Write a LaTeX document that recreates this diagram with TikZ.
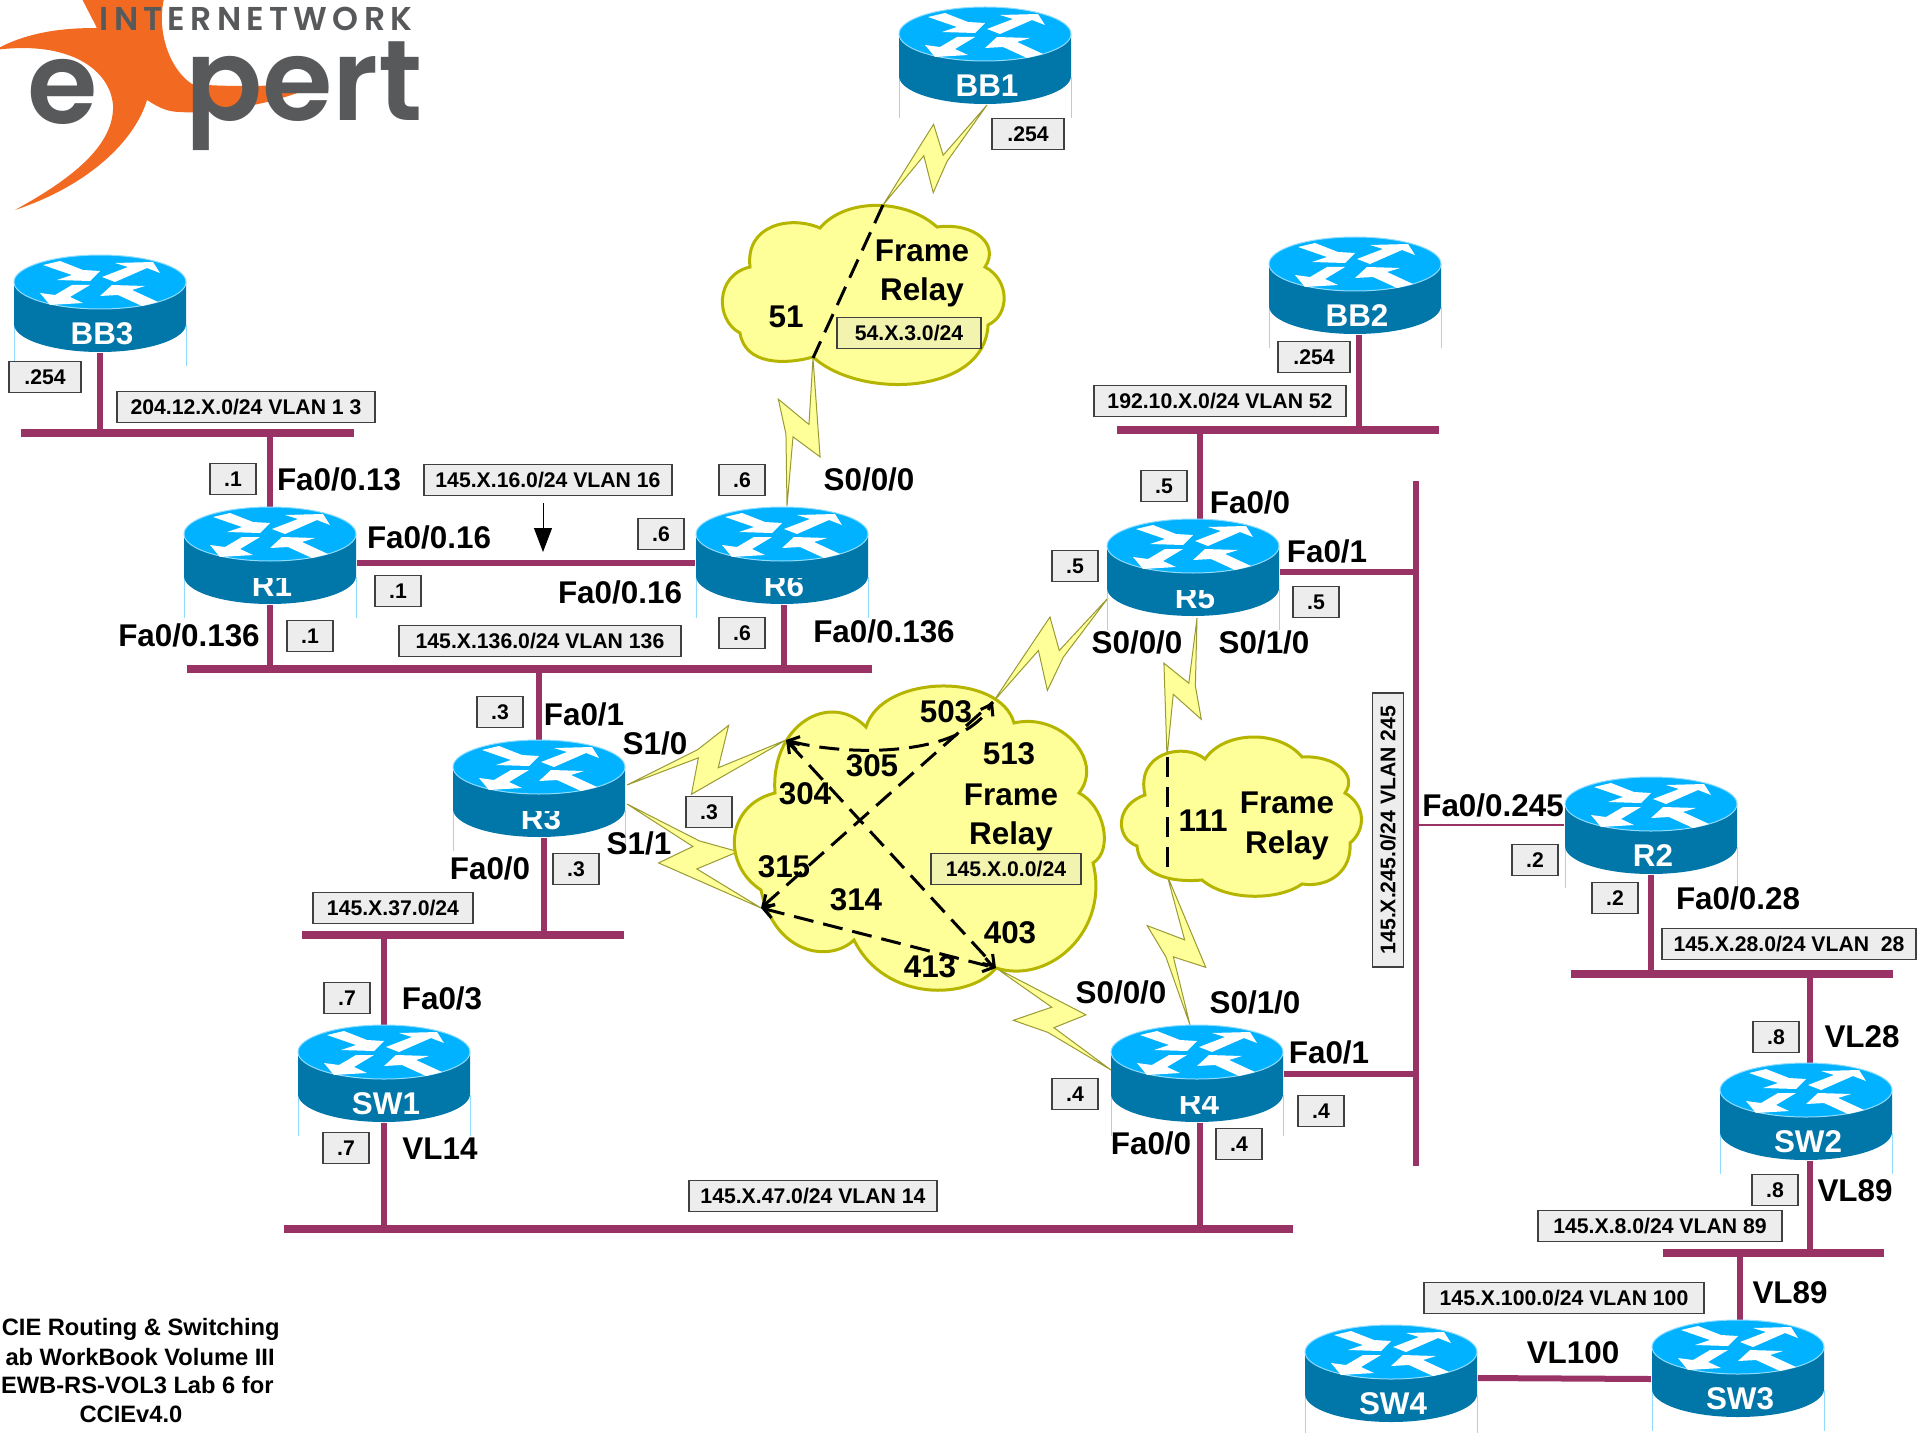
\documentclass[tikz,border=0pt]{standalone}
\usepackage{fontspec}
\setmainfont{Liberation Sans}
\newfontfamily\logofont{Poppins SemiBold}
\newfontfamily\logotracked{Poppins SemiBold}[LetterSpace=16]
\usetikzlibrary{backgrounds, calc, arrows.meta}
\definecolor{lanpurple}{HTML}{993366}
\definecolor{routertop}{HTML}{00B2FF}
\definecolor{routerbody}{HTML}{0077A8}
\definecolor{routerrim}{HTML}{8FDCFF}
\definecolor{cloudfill}{HTML}{FFFF99}
\definecolor{cloudline}{HTML}{B5B500}
\definecolor{boltline}{HTML}{9A9A33}
\definecolor{logoorange}{HTML}{F26A21}
\definecolor{logogray}{HTML}{58595B}
\tikzset{bus/.style = {lanpurple, line width=4pt}}
\tikzset{drop/.style = {lanpurple, line width=3pt}}
\tikzset{thinlink/.style = {lanpurple, line width=1pt}}
\tikzset{cloudbody/.style = {fill=cloudfill, draw=cloudline, line width=1.5pt}}
\tikzset{boltbody/.style = {fill=cloudfill, draw=boltline, line width=0.5pt}}
\tikzset{pvc/.style = {line width=1.5pt, dash pattern=on 10pt off 5pt}}
\tikzset{pvcends/.style = {pvc, {Straight Barb[length=5pt,width=7pt]}-{Straight Barb[length=5pt,width=7pt]}}}
\tikzset{intf/.style = {font=\bfseries\fontsize{15.7}{17}\selectfont, inner sep=0pt}}
\tikzset{title/.style = {font=\bfseries\fontsize{11.85}{14}\selectfont, inner sep=0pt}}
\tikzset{addr/.style = {draw=black!75, fill=black!7, line width=0.7pt, font=\bfseries\fontsize{10.6}{12}\selectfont, inner sep=0pt, minimum height=15.5pt, minimum width=23pt}}
\tikzset{subnet/.style = {addr, minimum width=#1}}
\tikzset{cloudnet/.style = {subnet=#1, fill=black!7!cloudfill!70!white}}
\tikzset{routerbox/.style = {inner sep=0pt, minimum width=86.5pt, minimum height=49pt}}
\tikzset{routername/.style = {white, font=\bfseries\fontsize{15.7}{17}\selectfont, inner sep=0pt}}
\newcommand\router[4][27]{
    \begin{scope}[shift={(#3,#4)}]
        \draw[routerrim, line width=0.4pt] (-86,70) -- (-86,111) (86,70) -- (86,111);
        \fill[routerbody] (-86,27) -- (-86,69) arc[start angle=180, end angle=0, x radius=86, y radius=28] -- (86,27) -- cycle;
        \node[routername] (#2name) at (2,79) {#2};
        \fill[routerbody] (-35,30) rectangle (35,#1);
        \filldraw[fill=routertop, draw=routerrim, line width=0.5pt] (0,27) ellipse [x radius=86, y radius=27];
        \begin{scope}[shift={(0,27)}]
            \fill[white] (-57,-17) -- (-40,-21) -- (-17,-12) -- (0,-11) -- (-10,-1) -- (-43,-2) -- (-28,-7) -- cycle;
            \fill[white] (2,-5) -- (28,-15) -- (15,-19) -- (53,-20) -- (60,-9) -- (47,-14) -- (15,0) -- cycle;
            \fill[white] (-10,3) -- (-30,15) -- (-17,21) -- (-50,23) -- (-60,11) -- (-45,13) -- (-28,3) -- cycle;
            \fill[white] (0,14) -- (12,3) -- (45,4) -- (32,8) -- (58,20) -- (42,24) -- (18,13) -- cycle;
        \end{scope}
    \end{scope}
    \node[routerbox] (#2) at (#3,#4+49) {};
}
\newcommand\bolt[2]{
    \filldraw[boltbody] (#1) -- ($(#1)!.4785!10.8:(#2)$) -- ($(#1)!.713!14.6:(#2)$) -- ($(#1)!.562!-5.1:(#2)$) -- (#2) -- ($(#1)!.394!-24:(#2)$) -- ($(#1)!.462!5:(#2)$) -- cycle;
}

\begin{document}
\begin{tikzpicture}[x=0.5pt, y=-0.5pt]
    \useasboundingbox (0,0) rectangle (1925,1433);

    \fill[logoorange] (-5,50) .. controls (30,30) and (70,28) .. (97,28) -- (80,-5) -- (165,-5)
        .. controls (155,30) and (170,70) .. (192,84) .. controls (240,88) and (290,85) .. (320,83)
        .. controls (290,100) and (220,115) .. (180,112) .. controls (165,112) and (155,105) .. (147,100)
        .. controls (135,140) and (90,185) .. (15,210) .. controls (60,185) and (115,150) .. (113,105)
        .. controls (110,70) and (70,40) .. (-5,50) -- cycle;
    \node[text=logogray, inner sep=0pt, font=\logotracked\fontsize{16.5}{18}\selectfont] (logotop) at (256,19) {INTERNETWORK};
    \node[text=logogray, inner sep=0pt, font=\logofont\fontsize{57}{58}\selectfont] (logoe) at (63,92) {e};
    \node[text=logogray, inner sep=0pt, font=\logofont\fontsize{57}{58}\selectfont] (logopert) at (304,96) {pert};

    \coordinate (vcA) at (786,740);
    \coordinate (vcB) at (993,702);
    \coordinate (vcC) at (761,908);
    \coordinate (vcD) at (996,968);
    \coordinate (topIn) at (883,205);
    \coordinate (topOut) at (813,358);
    \coordinate (rightIn) at (1167,757);
    \coordinate (rightOut) at (1167,875);
    \coordinate (BB1s) at (987,105);
    \coordinate (R6s) at (787,506);
    \coordinate (R3sa) at (627,785);
    \coordinate (R3sb) at (627,804);
    \coordinate (R5sa) at (1108,598);
    \coordinate (R5sb) at (1197,618);
    \coordinate (R4sa) at (1111,1070);
    \coordinate (R4sb) at (1190,1025);

    \bolt{BB1s}{topIn}
    \bolt{R6s}{topOut}
    \bolt{R3sa}{vcA}
    \bolt{R3sb}{vcC}
    \bolt{R5sa}{vcB}
    \bolt{R5sb}{rightIn}
    \bolt{R4sa}{vcD}
    \bolt{R4sb}{rightOut}

    \draw[cloudbody] (750,267) .. controls (745,225) and (790,215) .. (820,228) .. controls (845,198) and (905,198) .. (937,227)
        .. controls (975,222) and (1000,245) .. (985,267) .. controls (1010,280) and (1010,315) .. (988,325)
        .. controls (985,395) and (860,400) .. (813,357) .. controls (785,365) and (745,365) .. (740,333)
        .. controls (715,320) and (715,275) .. (750,267) -- cycle;
    \draw[cloudbody] (866,727) .. controls (882,674) and (1000,672) .. (1014,723) .. controls (1060,712) and (1105,760) .. (1079,793)
        .. controls (1104,805) and (1114,850) .. (1093,863) .. controls (1110,930) and (1050,985) .. (996,968)
        .. controls (970,1000) and (885,1003) .. (854,940) .. controls (830,963) and (775,955) .. (761,890)
        .. controls (722,865) and (725,805) .. (775,793) .. controls (770,725) and (830,690) .. (866,727) -- cycle;
    \draw[cloudbody] (1145,795) .. controls (1135,752) and (1185,742) .. (1205,759) .. controls (1225,730) and (1280,730) .. (1302,757)
        .. controls (1335,755) and (1358,775) .. (1345,793) .. controls (1366,805) and (1366,830) .. (1350,843)
        .. controls (1352,870) and (1330,888) .. (1302,884) .. controls (1280,900) and (1228,902) .. (1202,880)
        .. controls (1180,882) and (1140,880) .. (1137,846) .. controls (1115,838) and (1115,805) .. (1145,795) -- cycle;

    \draw[pvc] (topIn) -- (topOut);
    \draw[pvc] (rightIn) -- (rightOut);
    \draw[pvcends] (vcA) .. controls (840,755) and (960,760) .. (vcB);
    \draw[pvcends] (vcA) -- (vcD);
    \draw[pvc, {Straight Barb[length=5pt,width=7pt]}-] (vcC) -- (vcB);
    \draw[pvcends] (vcC) -- (vcD);

    \router{BB1}{985}{7}
    \router{BB2}{1355}{237}
    \router{BB3}{100}{255}
    \router[71]{R1}{270}{507}
    \router[71]{R6}{782}{507}
    \router[71]{R5}{1193}{519}
    \router[71]{R3}{539}{740}
    \router{R2}{1651}{777}
    \router{SW1}{384}{1025}
    \router[71]{R4}{1197}{1025}
    \router{SW2}{1806}{1063}
    \router{SW3}{1738}{1320}
    \router{SW4}{1391}{1325}

    \begin{scope}[on background layer]
        \foreach \lan/\xa/\xb/\y in {Lan13/21/354/433, Lan52/1117/1439/430, Lan136/187/872/669, Lan37/302/624/935, Lan47/284/1293/1229, Lan28/1571/1893/974, Lan89/1663/1884/1253} {
            \coordinate (\lan a) at (\xa,\y);
            \coordinate (\lan b) at (\xb,\y);
            \draw[bus] (\lan a) -- (\lan b);
        }
        \coordinate (Lan245a) at (1416,481);
        \coordinate (Lan245b) at (1416,1166);
        \draw[drop] (Lan245a) -- (Lan245b);
        \draw[drop] (BB3.south) -- (BB3.south |- Lan13a);
        \draw[drop] (R1.north) -- (R1.north |- Lan13a);
        \draw[drop] (R1.south) -- (R1.south |- Lan136a);
        \draw[drop] ([xshift=1pt]R6.south) -- ([xshift=1pt]R6.south |- Lan136a);
        \draw[drop] (R3.north) -- (R3.north |- Lan136a);
        \draw[drop] ([xshift=2.5pt]R3.south) -- ([xshift=2.5pt]R3.south |- Lan37a);
        \draw[drop] (SW1.north) -- (SW1.north |- Lan37a);
        \draw[drop] (SW1.south) -- (SW1.south |- Lan47a);
        \draw[drop] ([xshift=1.5pt]R4.south) -- ([xshift=1.5pt]R4.south |- Lan47a);
        \draw[drop] ([xshift=2pt]BB2.south) -- ([xshift=2pt]BB2.south |- Lan52a);
        \draw[drop] ([xshift=3.5pt]R5.north) -- ([xshift=3.5pt]R5.north |- Lan52a);
        \draw[drop] ([yshift=-2pt]R5.east) -- ([yshift=-2pt]R5.east -| Lan245a);
        \draw[drop] (R4.east) -- (R4.east -| Lan245a);
        \draw[thinlink] ([yshift=0.5pt]R2.west) -- ([yshift=0.5pt]R2.west -| Lan245a);
        \draw[drop] (R2.south) -- (R2.south |- Lan28a);
        \draw[drop] ([xshift=2pt]SW2.north) -- ([xshift=2pt]SW2.north |- Lan28a);
        \draw[drop] ([xshift=2pt]SW2.south) -- ([xshift=2pt]SW2.south |- Lan89a);
        \draw[drop] ([xshift=1pt]SW3.north) -- ([xshift=1pt]SW3.north |- Lan89a);
        \draw[drop] ([yshift=-2pt]SW4.east) -- ([yshift=-5pt]SW3.west);
        \draw[drop] ([yshift=-3.5pt]R1.east) -- ([yshift=-3.5pt]R6.west);
    \end{scope}

    \node[addr, minimum width=36pt] (ipBB1) at (1028,134) {.254};
    \node[addr, minimum width=36pt] (ipBB3) at (45,377) {.254};
    \node[addr, minimum width=36pt] (ipBB2) at (1314,357) {.254};
    \node[addr] (ipR1a) at (233,479) {.1};
    \node[addr] (ipR1b) at (398,591) {.1};
    \node[addr] (ipR1c) at (310,636) {.1};
    \node[addr] (ipR6a) at (742,480) {.6};
    \node[addr] (ipR6b) at (661,534) {.6};
    \node[addr] (ipR6c) at (742,633) {.6};
    \node[addr] (ipR3a) at (500,712) {.3};
    \node[addr] (ipR3b) at (709,812) {.3};
    \node[addr] (ipR3c) at (576,869) {.3};
    \node[addr] (ipR5a) at (1164,486) {.5};
    \node[addr] (ipR5b) at (1075,566) {.5};
    \node[addr] (ipR5c) at (1316,602) {.5};
    \node[addr] (ipSW1a) at (347,998) {.7};
    \node[addr] (ipSW1b) at (346,1148) {.7};
    \node[addr] (ipR4a) at (1075,1094) {.4};
    \node[addr] (ipR4b) at (1321,1111) {.4};
    \node[addr] (ipR4c) at (1239,1144) {.4};
    \node[addr] (ipR2a) at (1535,860) {.2};
    \node[addr] (ipR2b) at (1615,898) {.2};
    \node[addr] (ipSW2a) at (1776,1037) {.8};
    \node[addr] (ipSW2b) at (1775,1190) {.8};

    \node[subnet=129pt] (net13) at (246,407) {204.12.X.0/24 VLAN 1 3};
    \node[subnet=124pt] (net16) at (548,480) {145.X.16.0/24 VLAN 16};
    \node[subnet=141pt] (net136) at (540,641) {145.X.136.0/24 VLAN 136};
    \node[subnet=80pt] (net37) at (393,908) {145.X.37.0/24};
    \node[subnet=124pt] (net47) at (813,1196) {145.X.47.0/24 VLAN 14};
    \node[subnet=126pt] (net52) at (1220,401) {192.10.X.0/24 VLAN 52};
    \node[subnet=127pt] (net28) at (1789,944) {145.X.28.0/24 VLAN\ \ 28};
    \node[subnet=122pt] (net89) at (1660,1226) {145.X.8.0/24 VLAN 89};
    \node[subnet=140pt] (net100) at (1564,1298) {145.X.100.0/24 VLAN 100};
    \node[subnet=137pt, rotate=90] (net245) at (1388,830) {145.X.245.0/24 VLAN 245};
    \node[cloudnet=72pt] (net54) at (909,333) {54.X.3.0/24};
    \node[cloudnet=75pt] (net0) at (1006,869) {145.X.0.0/24};

    \coordinate (arrowStart) at (543,503);
    \coordinate (arrowEnd) at (543,552);
    \draw[-{Stealth[length=12pt,width=9pt,inset=0pt]}] (arrowStart) -- (arrowEnd);

    \node[intf] (fR1a) at (339,479) {Fa0/0.13};
    \node[intf] (fR1b) at (429,537) {Fa0/0.16};
    \node[intf] (fR1c) at (189,635) {Fa0/0.136};
    \node[intf] (fR6a) at (620,592) {Fa0/0.16};
    \node[intf] (fR6b) at (884,631) {Fa0/0.136};
    \node[intf] (sR6) at (869,479) {S0/0/0};
    \node[intf] (fR5a) at (1250,502) {Fa0/0};
    \node[intf] (fR5b) at (1327,551) {Fa0/1};
    \node[intf] (sR5a) at (1137,642) {S0/0/0};
    \node[intf] (sR5b) at (1264,642) {S0/1/0};
    \node[intf] (fR3a) at (584,714) {Fa0/1};
    \node[intf] (sR3a) at (655,743) {S1/0};
    \node[intf] (sR3b) at (639,843) {S1/1};
    \node[intf] (fR3b) at (490,868) {Fa0/0};
    \node[intf] (fSW1) at (442,998) {Fa0/3};
    \node[intf] (vSW1) at (440,1149) {VL14};
    \node[intf] (fR2a) at (1493,805) {Fa0/0.245};
    \node[intf] (fR2b) at (1738,898) {Fa0/0.28};
    \node[intf] (vSW2a) at (1862,1037) {VL28};
    \node[intf] (vSW2b) at (1855,1191) {VL89};
    \node[intf] (vSW3a) at (1790,1293) {VL89};
    \node[intf] (vSW3b) at (1573,1353) {VL100};
    \node[intf] (sR4a) at (1121,992) {S0/0/0};
    \node[intf] (sR4b) at (1255,1002) {S0/1/0};
    \node[intf] (fR4a) at (1329,1052) {Fa0/1};
    \node[intf] (fR4b) at (1151,1143) {Fa0/0};

    \node[intf] (topFrame) at (922,251) {Frame};
    \node[intf] (topRelay) at (922,292) {Relay};
    \node[intf] (dlci51) at (786,317) {51};
    \node[intf] (rightFrame) at (1287,803) {Frame};
    \node[intf] (rightRelay) at (1287,845) {Relay};
    \node[intf] (dlci111) at (1203,821) {111};
    \node[intf] (midFrame) at (1011,795) {Frame};
    \node[intf] (midRelay) at (1011,836) {Relay};
    \node[intf] (dlci503) at (946,712) {503};
    \node[intf] (dlci513) at (1009,754) {513};
    \node[intf] (dlci305) at (872,766) {305};
    \node[intf] (dlci304) at (805,794) {304};
    \node[intf] (dlci315) at (784,867) {315};
    \node[intf] (dlci314) at (856,900) {314};
    \node[intf] (dlci403) at (1010,933) {403};
    \node[intf] (dlci413) at (930,967) {413};

    \node[title, anchor=east] (titleA) at (280,1329) {CIE Routing \& Switching};
    \node[title, anchor=east] (titleB) at (275,1357) {ab WorkBook Volume III};
    \node[title, anchor=east] (titleC) at (274,1385) {EWB-RS-VOL3 Lab 6 for};
    \node[title] (titleD) at (131,1414) {CCIEv4.0};
\end{tikzpicture}
\end{document}
